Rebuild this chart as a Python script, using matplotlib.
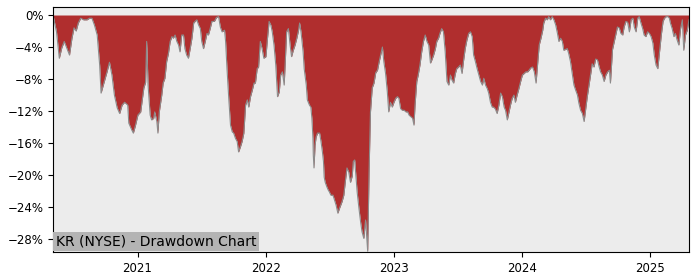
import numpy as np
import pandas as pd
import matplotlib
matplotlib.use("Agg")
import matplotlib.pyplot as plt
import matplotlib.dates as mdates
from matplotlib.ticker import FuncFormatter

# drawdown (percent below running peak)
dates = [
    "2020-05-05", "2020-05-15", "2020-05-23", "2020-05-30", "2020-06-06", "2020-06-13", "2020-06-21", "2020-06-28",
    "2020-07-04", "2020-07-10", "2020-07-16", "2020-07-23", "2020-07-31", "2020-08-10", "2020-08-17", "2020-08-24",
    "2020-08-31", "2020-09-08", "2020-09-15", "2020-09-19", "2020-09-27", "2020-10-06", "2020-10-13", "2020-10-20",
    "2020-10-27", "2020-11-04", "2020-11-11", "2020-11-18", "2020-11-25", "2020-12-04", "2020-12-07", "2020-12-16",
    "2020-12-20", "2020-12-26", "2021-01-02", "2021-01-10", "2021-01-15", "2021-01-19", "2021-01-24", "2021-01-27",
    "2021-01-31", "2021-02-06", "2021-02-10", "2021-02-16", "2021-02-19", "2021-02-25", "2021-02-28", "2021-03-04",
    "2021-03-11", "2021-03-15", "2021-03-20", "2021-03-25", "2021-03-30", "2021-04-04", "2021-04-09", "2021-04-13",
    "2021-04-18", "2021-04-23", "2021-04-28", "2021-05-02", "2021-05-07", "2021-05-12", "2021-05-16", "2021-05-21",
    "2021-05-26", "2021-05-31", "2021-06-05", "2021-06-10", "2021-06-14", "2021-06-19", "2021-06-24", "2021-06-29",
    "2021-07-03", "2021-07-08", "2021-07-13", "2021-07-18", "2021-07-22", "2021-07-27", "2021-08-01", "2021-08-08",
    "2021-08-14", "2021-08-20", "2021-08-25", "2021-08-30", "2021-09-06", "2021-09-09", "2021-09-13", "2021-09-18",
    "2021-09-23", "2021-09-28", "2021-10-02", "2021-10-07", "2021-10-12", "2021-10-16", "2021-10-21", "2021-10-26",
    "2021-10-31", "2021-11-05", "2021-11-10", "2021-11-14", "2021-11-19", "2021-11-24", "2021-11-29", "2021-12-03",
    "2021-12-08", "2021-12-12", "2021-12-17", "2021-12-22", "2021-12-27", "2022-01-02", "2022-01-06", "2022-01-11",
    "2022-01-16", "2022-01-20", "2022-01-25", "2022-01-30", "2022-02-04", "2022-02-09", "2022-02-13", "2022-02-18",
    "2022-02-23", "2022-02-27", "2022-03-02", "2022-03-07", "2022-03-12", "2022-03-16", "2022-03-21", "2022-03-26",
    "2022-03-31", "2022-04-05", "2022-04-08", "2022-04-12", "2022-04-18", "2022-04-21", "2022-04-27", "2022-04-30",
    "2022-05-06", "2022-05-10", "2022-05-13", "2022-05-16", "2022-05-17", "2022-05-19", "2022-05-22", "2022-05-25",
    "2022-05-29", "2022-06-04", "2022-06-08", "2022-06-12", "2022-06-15", "2022-06-17", "2022-06-20", "2022-06-25",
    "2022-06-29", "2022-07-02", "2022-07-06", "2022-07-12", "2022-07-15", "2022-07-21", "2022-07-26", "2022-07-31",
    "2022-08-07", "2022-08-12", "2022-08-16", "2022-08-21", "2022-08-26", "2022-08-31", "2022-09-05", "2022-09-08",
    "2022-09-12", "2022-09-16", "2022-09-19", "2022-09-24", "2022-09-29", "2022-10-03", "2022-10-08", "2022-10-13",
    "2022-10-16", "2022-10-19", "2022-10-23", "2022-10-27", "2022-11-01", "2022-11-06", "2022-11-11", "2022-11-16",
    "2022-11-20", "2022-11-25", "2022-11-30", "2022-12-04", "2022-12-09", "2022-12-14", "2022-12-18", "2022-12-23",
    "2022-12-28", "2023-01-02", "2023-01-07", "2023-01-12", "2023-01-16", "2023-01-21", "2023-01-26", "2023-01-31",
    "2023-02-05", "2023-02-10", "2023-02-14", "2023-02-19", "2023-02-24", "2023-02-28", "2023-03-03", "2023-03-08",
    "2023-03-12", "2023-03-17", "2023-03-22", "2023-03-27", "2023-04-01", "2023-04-06", "2023-04-11", "2023-04-16",
    "2023-04-20", "2023-04-25", "2023-04-30", "2023-05-04", "2023-05-09", "2023-05-13", "2023-05-18", "2023-05-23",
    "2023-05-28", "2023-06-02", "2023-06-07", "2023-06-12", "2023-06-16", "2023-06-21", "2023-06-26", "2023-06-30",
    "2023-07-05", "2023-07-10", "2023-07-15", "2023-07-19", "2023-07-24", "2023-07-29", "2023-08-03", "2023-08-08",
    "2023-08-13", "2023-08-17", "2023-08-22", "2023-08-27", "2023-09-01", "2023-09-06", "2023-09-11", "2023-09-15",
    "2023-09-20", "2023-09-25", "2023-09-29", "2023-10-04", "2023-10-09", "2023-10-13", "2023-10-18", "2023-10-23",
    "2023-10-28", "2023-11-02", "2023-11-07", "2023-11-12", "2023-11-16", "2023-11-21", "2023-11-26", "2023-11-30",
    "2023-12-05", "2023-12-10", "2023-12-14", "2023-12-19", "2023-12-24", "2023-12-29", "2024-01-03", "2024-01-08",
    "2024-01-13", "2024-01-18", "2024-01-22", "2024-01-27", "2024-02-01", "2024-02-06", "2024-02-11", "2024-02-16",
    "2024-02-20", "2024-02-25", "2024-03-01", "2024-03-04", "2024-03-09", "2024-03-14", "2024-03-18", "2024-03-23",
    "2024-03-28", "2024-04-02", "2024-04-07", "2024-04-12", "2024-04-16", "2024-04-21", "2024-04-26", "2024-04-30",
    "2024-05-05", "2024-05-10", "2024-05-14", "2024-05-19", "2024-05-24", "2024-05-29", "2024-06-03", "2024-06-08",
    "2024-06-12", "2024-06-17", "2024-06-22", "2024-06-27", "2024-07-01", "2024-07-06", "2024-07-11", "2024-07-16",
    "2024-07-20", "2024-07-25", "2024-07-30", "2024-08-04", "2024-08-09", "2024-08-13", "2024-08-18", "2024-08-23",
    "2024-08-28", "2024-09-02", "2024-09-07", "2024-09-10", "2024-09-16", "2024-09-21", "2024-09-26", "2024-09-30",
    "2024-10-05", "2024-10-10", "2024-10-15", "2024-10-19", "2024-10-24", "2024-10-29", "2024-11-03", "2024-11-08",
    "2024-11-13", "2024-11-17", "2024-11-22", "2024-11-27", "2024-12-01", "2024-12-06", "2024-12-11", "2024-12-15",
    "2024-12-20", "2024-12-25", "2024-12-30", "2025-01-04", "2025-01-09", "2025-01-13", "2025-01-18", "2025-01-23",
    "2025-01-28", "2025-02-02", "2025-02-07", "2025-02-11", "2025-02-16", "2025-02-21", "2025-02-25", "2025-02-28",
    "2025-03-05", "2025-03-10", "2025-03-14", "2025-03-19", "2025-03-24", "2025-03-29", "2025-04-03", "2025-04-07",
    "2025-04-12", "2025-04-17", "2025-04-22",
]
drawdown = [
    0.0, -2.1, -5.4, -4.1, -3.3, -4.1, -5.0, -2.9,
    -1.6, -2.0, -1.0, -0.4, -0.6, -0.6, -0.4, -0.4,
    -1.25, -2.5, -6.25, -9.75, -8.5, -7.1, -5.9, -7.5,
    -10.0, -11.6, -12.3, -11.25, -10.9, -11.25, -13.5, -14.4,
    -14.75, -13.8, -12.5, -12.1, -10.4, -9.1, -8.4, -3.3,
    -8.75, -12.5, -13.1, -12.9, -12.1, -13.3, -14.75, -12.1,
    -10.0, -8.5, -7.9, -5.8, -4.8, -3.3, -2.7, -2.9,
    -2.5, -3.3, -3.75, -4.6, -2.5, -2.5, -4.2, -5.0,
    -5.4, -4.2, -2.9, -1.0, -0.8, -0.6, -1.25, -1.7,
    -3.3, -4.2, -3.3, -2.3, -2.5, -1.7, -0.8, -0.8,
    -0.3, -0.2, -1.5, -2.1, -1.9, -3.3, -6.7, -10.4,
    -13.75, -14.6, -14.75, -15.4, -15.8, -17.1, -16.5, -15.8,
    -14.75, -11.25, -10.6, -11.5, -10.2, -9.4, -8.5, -8.5,
    -6.7, -6.5, -3.3, -4.2, -5.4, -5.2, -3.1, -0.8,
    -1.25, -2.1, -3.75, -6.25, -10.2, -9.6, -7.5, -7.1,
    -8.75, -5.0, -2.1, -1.7, -3.8, -5.2, -4.4, -3.75,
    -2.9, -1.9, -1.0, -2.1, -4.6, -6.7, -8.75, -10.6,
    -11.25, -11.5, -12.9, -15.4, -17.5, -19.1, -16.25, -15.25,
    -14.75, -14.75, -15.8, -17.1, -18.3, -20.25, -20.9, -21.5,
    -21.9, -22.1, -22.5, -22.5, -22.9, -23.75, -24.75, -24.1,
    -23.3, -22.5, -20.9, -19.1, -19.6, -20.9, -20.1, -18.3,
    -18.1, -20.4, -22.1, -24.1, -25.9, -27.1, -27.9, -25.6,
    -27.5, -29.5, -19.6, -12.1, -9.1, -8.5, -7.2, -6.9,
    -6.0, -5.0, -4.0, -5.8, -7.3, -9.6, -12.1, -10.9,
    -11.5, -10.9, -10.4, -10.2, -10.4, -11.7, -11.9, -11.9,
    -12.1, -12.1, -12.5, -12.7, -12.9, -13.75, -11.25, -8.3,
    -7.5, -6.25, -4.6, -3.3, -2.5, -3.3, -3.75, -6.0,
    -5.6, -5.0, -4.2, -3.3, -2.9, -2.3, -1.7, -2.1,
    -4.6, -8.3, -8.75, -7.5, -8.1, -8.5, -7.3, -6.7,
    -6.5, -6.25, -7.3, -5.8, -4.2, -3.1, -2.3, -2.1,
    -2.7, -5.0, -5.8, -6.7, -7.5, -8.3, -8.75, -7.9,
    -8.75, -9.2, -9.75, -10.9, -11.5, -11.5, -11.75, -12.3,
    -11.25, -9.75, -10.2, -11.5, -11.9, -13.1, -12.1, -11.25,
    -10.4, -10.0, -10.9, -10.0, -9.2, -8.3, -7.5, -7.3,
    -7.1, -7.1, -6.9, -6.6, -6.5, -7.1, -8.5, -5.8,
    -3.75, -2.9, -1.9, -1.0, -0.4, -0.6, -0.2, -0.6,
    -0.2, -0.6, -1.25, -2.3, -3.3, -2.9, -3.3, -4.4,
    -4.3, -4.2, -4.8, -5.8, -7.3, -8.75, -9.4, -10.0,
    -11.0, -11.9, -12.3, -13.3, -11.9, -10.2, -8.75, -7.3,
    -6.1, -6.5, -5.5, -5.6, -6.5, -7.1, -7.5, -8.3,
    -7.5, -7.1, -6.9, -8.5, -4.3, -3.3, -2.3, -1.5,
    -1.6, -2.3, -2.5, -1.5, -0.8, -0.9, -2.1, -0.6,
    -0.4, -1.5, -2.1, -0.4, -0.2, -1.0, -1.7, -2.5,
    -2.7, -2.1, -2.3, -2.7, -3.5, -5.0, -6.25, -6.7,
    -4.6, -2.5, -0.8, -0.4, -0.2, -0.2, -0.4, -1.0,
    -1.7, -2.7, -2.3, -3.1, -3.75, -1.7, -0.6, -4.4,
    -2.5, -1.9, -0.6,
]
year_ticks = ["2021", "2022", "2023", "2024", "2025"]
pct_ticks = [0, -4, -8, -12, -16, -20, -24, -28]
title = "KR (NYSE) - Drawdown Chart"

x = pd.to_datetime(dates)
y = np.array(drawdown)

fig = plt.figure(figsize=(7, 2.8), dpi=100)
ax = fig.add_axes([53 / 700, 28 / 280, 636 / 700, 245 / 280])
ax.set_facecolor("#ececec")

ax.fill_between(x, y, 0, color="#b02e2e", linewidth=0)
ax.plot(x, y, color="#8c8c8c", linewidth=0.8)

ax.set_xlim(x[0], x[-1])
ax.set_ylim(y.min() - 0.1, 1)

ax.set_xticks(pd.to_datetime([t + "-01-01" for t in year_ticks]))
ax.xaxis.set_major_formatter(mdates.DateFormatter("%Y"))
ax.set_yticks(pct_ticks)
ax.yaxis.set_major_formatter(FuncFormatter(lambda v, p: f"{v:.0f}%".replace("-", "\u2212")))
ax.tick_params(labelsize=8.5, length=3.5)

ax.annotate(title, xy=(0, 0), xycoords="axes fraction", xytext=(2, 2.5), textcoords="offset points",
            fontsize=10, ha="left", va="bottom",
            bbox=dict(facecolor="#b4b4b4", edgecolor="none", pad=2))

fig.savefig("out.png", dpi=100)
